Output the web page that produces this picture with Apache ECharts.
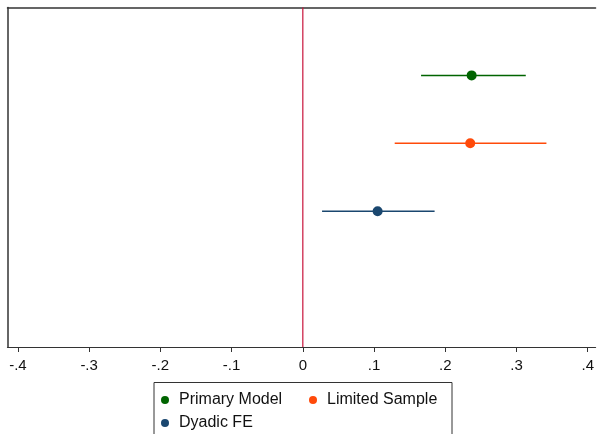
<!DOCTYPE html>
<html>
<head>
<meta charset="utf-8">
<script src="https://cdn.jsdelivr.net/npm/echarts@6/dist/echarts.min.js"></script>
<style>
  html, body { margin: 0; padding: 0; background: #fff; }
  #main { width: 597px; height: 434px; }
</style>
</head>
<body>
<div id="main"></div>
<script>
// 模型名称、点估计和置信区间
var modelNames = ['Primary Model', 'Limited Sample', 'Dyadic FE'];
var modelColors = ['#006400', '#ff4a0a', '#1a476f'];
var rowPos = [4, 3, 2];
var pointEst = [0.237, 0.235, 0.105];
var ciLow = [0.166, 0.129, 0.027];
var ciHigh = [0.313, 0.342, 0.185];
// x轴刻度
var tickValues = [-0.4, -0.3, -0.2, -0.1, 0, 0.1, 0.2, 0.3, 0.4];
var tickLabels = ['-.4', '-.3', '-.2', '-.1', '0', '.1', '.2', '.3', '.4'];
// 零参考线
var refX = 0;
var yRange = [0, 5];

var myChart = echarts.init(document.getElementById('main'));
var fontName = '"Liberation Sans", Arial, Helvetica, sans-serif';

var series = [{
    name: 'ref',
    type: 'line',
    symbol: 'none',
    silent: true,
    z: 5,
    lineStyle: { color: '#c8143c', width: 1.2 },
    data: [[refX, yRange[0]], [refX, yRange[1]]]
}];
for (var i = 0; i < modelNames.length; i++) {
    series.push({
        name: modelNames[i],
        type: 'line',
        symbol: 'none',
        silent: true,
        z: 6,
        lineStyle: { color: modelColors[i], width: 1.5 },
        data: [[ciLow[i], rowPos[i]], [ciHigh[i], rowPos[i]]]
    });
    series.push({
        name: modelNames[i],
        type: 'scatter',
        symbolSize: 10,
        z: 7,
        itemStyle: { color: modelColors[i], opacity: 1 },
        data: [[pointEst[i], rowPos[i]]]
    });
}

var legendItem = function (k) {
    return { name: modelNames[k], icon: 'circle', itemStyle: { color: modelColors[k] } };
};

var option = {
    animation: false,
    backgroundColor: '#fff',
    grid: { left: 7.5, right: 0, top: 7.5, bottom: 87 },
    xAxis: [{
        type: 'value',
        min: -0.4146,
        max: 0.411,
        splitLine: { show: false },
        axisLine: { show: true, onZero: false, lineStyle: { color: '#333', width: 1.2 } },
        axisTick: { show: true, length: 5, customValues: tickValues, lineStyle: { color: '#333' } },
        axisLabel: {
            customValues: tickValues,
            margin: 11,
            fontSize: 15,
            fontFamily: fontName,
            color: '#111',
            formatter: function (v) {
                var idx = tickValues.indexOf(Math.round(v * 10) / 10);
                return idx >= 0 ? tickLabels[idx] : '';
            }
        }
    }, {
        type: 'value',
        position: 'top',
        min: -0.4146,
        max: 0.411,
        splitLine: { show: false },
        axisLine: { show: true, onZero: false, lineStyle: { color: '#333', width: 1.5 } },
        axisTick: { show: false },
        axisLabel: { show: false }
    }],
    yAxis: {
        type: 'value',
        position: 'left',
        min: yRange[0],
        max: yRange[1],
        splitLine: { show: false },
        axisLine: { show: true, onZero: false, lineStyle: { color: '#333', width: 1.5 } },
        axisTick: { show: false },
        axisLabel: { show: false }
    },
    legend: [{
        left: 161,
        top: 392,
        padding: 0,
        itemWidth: 8,
        itemHeight: 8,
        itemGap: 20,
        textStyle: { fontSize: 16, fontFamily: fontName, color: '#111', width: 110, lineHeight: 16, padding: [0, 0, 0, 5] },
        data: [legendItem(0), legendItem(1)]
    }, {
        left: 161,
        top: 415,
        padding: 0,
        itemWidth: 8,
        itemHeight: 8,
        textStyle: { fontSize: 16, fontFamily: fontName, color: '#111', lineHeight: 16, padding: [0, 0, 0, 5] },
        data: [legendItem(2)]
    }],
    graphic: [{
        type: 'rect',
        silent: true,
        shape: { x: 154, y: 382.5, width: 298, height: 70 },
        style: { fill: 'none', stroke: '#333', lineWidth: 1 }
    }],
    series: series
};

myChart.setOption(option);
</script>
</body>
</html>
